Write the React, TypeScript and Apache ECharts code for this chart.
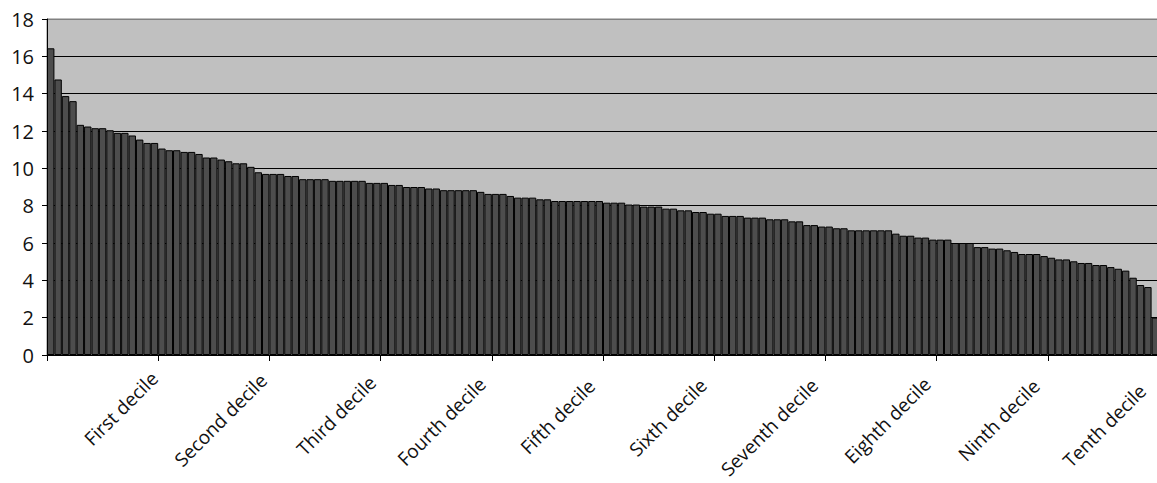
import React, { useEffect, useRef } from "react";
import * as echarts from "echarts";

const values: number[] = [
  16.43, 14.76, 13.87, 13.6, 12.33, 12.24, 12.15, 12.15, 12.04, 11.9,
  11.9, 11.76, 11.54, 11.36, 11.36, 11.06, 10.97, 10.97, 10.88, 10.88,
  10.77, 10.58, 10.58, 10.47, 10.38, 10.27, 10.27, 10.08, 9.79, 9.7,
  9.7, 9.7, 9.59, 9.59, 9.42, 9.42, 9.42, 9.42, 9.33, 9.33,
  9.33, 9.33, 9.33, 9.22, 9.22, 9.22, 9.11, 9.11, 9.0, 9.0,
  9.0, 8.92, 8.92, 8.83, 8.83, 8.83, 8.83, 8.83, 8.74, 8.63,
  8.63, 8.63, 8.52, 8.43, 8.43, 8.43, 8.34, 8.34, 8.25, 8.25,
  8.25, 8.25, 8.25, 8.25, 8.25, 8.16, 8.16, 8.16, 8.06, 8.06,
  7.95, 7.95, 7.95, 7.84, 7.84, 7.75, 7.75, 7.66, 7.66, 7.57,
  7.57, 7.45, 7.45, 7.45, 7.36, 7.36, 7.36, 7.27, 7.27, 7.27,
  7.16, 7.16, 6.96, 6.96, 6.88, 6.88, 6.79, 6.79, 6.68, 6.68,
  6.68, 6.68, 6.68, 6.68, 6.5, 6.39, 6.39, 6.29, 6.29, 6.18,
  6.18, 6.18, 6.0, 6.0, 6.0, 5.78, 5.78, 5.7, 5.7, 5.61,
  5.52, 5.41, 5.41, 5.41, 5.3, 5.21, 5.12, 5.12, 5.02, 4.93,
  4.93, 4.82, 4.82, 4.71, 4.62, 4.52, 4.14, 3.75, 3.64, 2.0,
];

const decileLabels: string[] = [
  "First decile",
  "Second decile",
  "Third decile",
  "Fourth decile",
  "Fifth decile",
  "Sixth decile",
  "Seventh decile",
  "Eighth decile",
  "Ninth decile",
  "Tenth decile",
];

// horizontal nudge (px, leftwards) of each decile label, to follow the reference
const labelNudge: number[] = [0, 2, 4, 6, 8, 7, 7, 6, 8, 13];

const perDecile = 15;

export default function App() {
  const ref = useRef<HTMLDivElement>(null);
  useEffect(() => {
    if (!ref.current) return;
    const chart = echarts.init(ref.current, undefined, { renderer: "svg" });
    const font = "'Open Sans', 'Noto Sans', sans-serif";
    const categories = values.map((_, i) => {
      const k = Math.floor(i / perDecile);
      const isLabel = i % perDecile === perDecile - 1;
      const pad = isLabel ? Math.round(labelNudge[k] / 0.707) : 0;
      return {
        value: String(i + 1),
        textStyle: { padding: [0, pad, 0, 0] },
      };
    });
    chart.setOption({
      animation: false,
      grid: {
        left: 47,
        top: 19,
        height: 336,
        width: 1112,
        outerBoundsMode: "none",
        containLabel: false,
        show: true,
        backgroundColor: "#c0c0c0",
        borderColor: "#808080",
        borderWidth: 1,
      },
      xAxis: {
        type: "category",
        data: categories,
        boundaryGap: true,
        axisLine: { show: true, lineStyle: { color: "#000", width: 1 } },
        axisTick: {
          show: true,
          length: 6,
          interval: (i: number) => i % perDecile === 0,
          lineStyle: { color: "#000" },
        },
        axisLabel: {
          interval: (i: number) => i % perDecile === perDecile - 1,
          formatter: (_v: string, i: number) =>
            decileLabels[Math.floor(i / perDecile)] ?? "",
          rotate: 45,
          margin: 20,
          fontSize: 19,
          color: "#111",
          fontFamily: font,
        },
        splitLine: { show: false },
      },
      yAxis: {
        type: "value",
        min: 0,
        max: 18,
        interval: 2,
        axisLine: { show: true, lineStyle: { color: "#000", width: 1 } },
        axisTick: { show: true, length: 5, lineStyle: { color: "#000" } },
        axisLabel: {
          fontSize: 20,
          color: "#111",
          margin: 13,
          fontFamily: font,
        },
        splitLine: {
          show: true,
          lineStyle: {
            color: [
              "#000", "#000", "#000", "#000", "#000",
              "#000", "#000", "#000", "#000", "#808080",
            ],
            width: 1,
          },
        },
      },
      series: [
        {
          type: "bar",
          data: values,
          barCategoryGap: "0%",
          barGap: "0%",
          itemStyle: {
            color: "#4d4d4d",
            borderColor: "#000",
            borderWidth: 1,
          },
        },
      ],
    });
    return () => chart.dispose();
  }, []);
  return (
    <div
      ref={ref}
      style={{ position: "absolute", left: 0, top: 0, width: 1157, height: 483 }}
    />
  );
}
